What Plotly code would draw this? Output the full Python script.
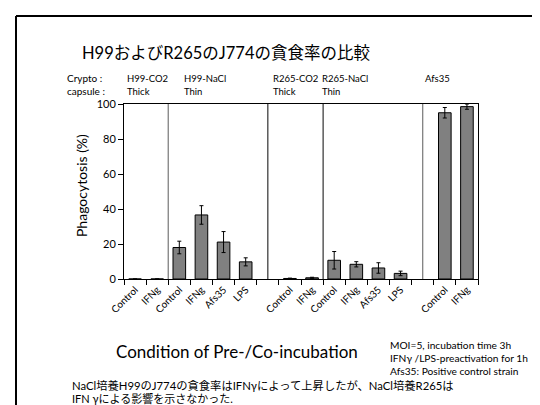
import plotly.graph_objects as go

# ---- data ----
labels = ["Control", "IFNg", "Control", "IFNg", "Afs35", "LPS", "",
          "Control", "IFNg", "Control", "IFNg", "Afs35", "LPS", "",
          "Control", "IFNg"]
values = [0, 0, 18.0, 36.6, 21.1, 9.8, None,
          0.3, 0.7, 10.7, 8.4, 6.3, 3.2, None,
          95.0, 98.5]
errors = [0, 0, 3.6, 5.3, 6.0, 2.3, None,
          0.2, 0.3, 5.0, 1.5, 3.0, 1.3, None,
          3.0, 1.5]
group_names = ["H99-CO2", "H99-NaCl", "R265-CO2", "R265-NaCl", "Afs35"]
group_capsule = ["Thick", "Thin", "Thick", "Thin", ""]
separators = [1.5, 6, 8.5, 13]
sep_colors = ["#808080", "#404040", "#404040", "#808080"]
yticks = [0, 20, 40, 60, 80, 100]

title = "H99およびR265のJ774の貪食率の比較"
notes = ["MOI=5, incubation time 3h", "IFNγ /LPS-preactivation for 1h",
         "Afs35: Positive control strain"]
bottom_lines = ["NaCl培養H99のJ774の貪食率はIFNγによって上昇したが、NaCl培養R265は",
                "IFN γによる影響を示さなかった."]

# ---- layout geometry ----
W, H = 540, 405
L, R, T, B = 116, 470, 96, 271


def px(x):
    return (x - L) / (R - L)


def py(y):
    return (B - y) / (B - T)


FONT = "Lato, 'Noto Sans CJK JP', sans-serif"

xs = [i for i, v in enumerate(values) if v is not None]
ys = [values[i] for i in xs]
es = [errors[i] for i in xs]

fig = go.Figure()
fig.add_trace(go.Bar(
    x=xs, y=ys, width=0.57,
    marker=dict(color="#808080", line=dict(color="black", width=1)),
    error_y=dict(type="data", array=es, visible=True, color="black",
                 thickness=1, width=2),
    showlegend=False,
))

centers = [i for i, t in enumerate(labels) if t]
bounds = [i - 0.5 for i in range(len(labels) + 1)]

fig.update_layout(
    width=W, height=H,
    margin=dict(l=L, r=W - R, t=T, b=H - B),
    paper_bgcolor="white", plot_bgcolor="white",
    font=dict(family=FONT, color="black"),
    xaxis=dict(range=[-0.5, len(labels) - 0.5], tickmode="array",
               tickvals=centers, ticktext=[labels[i] for i in centers],
               ticks="", tickangle=-45, tickfont=dict(size=10),
               showline=True, linecolor="black", linewidth=1, mirror=True,
               showgrid=False, zeroline=False,
               minor=dict(tickmode="array", tickvals=bounds, ticks="outside",
                          ticklen=5, tickcolor="black", showgrid=False)),
    yaxis=dict(range=[0, 100], tickmode="array", tickvals=yticks,
               ticks="outside", ticklen=5, tickcolor="black",
               tickfont=dict(size=11),
               showline=True, linecolor="black", linewidth=1, mirror=True,
               showgrid=False, zeroline=False),
)

shapes = []
for s, c in zip(separators, sep_colors):
    shapes.append(dict(type="line", xref="x", yref="y", x0=s, x1=s, y0=0, y1=100,
                       line=dict(color=c, width=1.3)))
# slide frame (top + left)
shapes.append(dict(type="line", xref="paper", yref="paper", x0=px(8), x1=px(560),
                   y0=py(8), y1=py(8), line=dict(color="black", width=2)))
shapes.append(dict(type="line", xref="paper", yref="paper", x0=px(8), x1=px(8),
                   y0=py(8), y1=py(420), line=dict(color="black", width=2)))
fig.update_layout(shapes=shapes)

ann = []


def text(x, y, s, size, xanchor="left", angle=0):
    ann.append(dict(x=px(x), y=py(y), xref="paper", yref="paper", text=s,
                    showarrow=False, xanchor=xanchor, yanchor="middle",
                    textangle=angle, font=dict(size=size, family=FONT)))


text(72, 45, title, 16.5)
text(57, 70, "Crypto :", 10)
text(57, 83, "capsule :", 10)
gx = [117, 174, 263, 312, 415]
for x, g, c in zip(gx, group_names, group_capsule):
    text(x, 70, g, 9.5)
    if c:
        text(x, 83, c, 9.5)
text(73, 178, "Phagocytosis (%)", 14, xanchor="center", angle=-90)
text(229, 343, "Condition of Pre-/Co-incubation", 17, xanchor="center")
for i, n in enumerate(notes):
    text(380, 337 + 13 * i, n, 10.2)
text(62, 377, bottom_lines[0], 11.3)
text(62, 390, bottom_lines[1], 11)

fig.update_layout(annotations=ann)
fig.write_html("out.html")
